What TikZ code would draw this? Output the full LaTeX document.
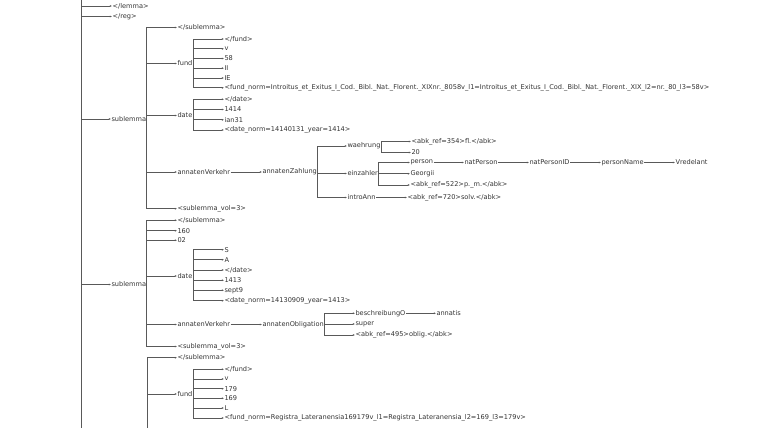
\documentclass[tikz,border=0pt]{standalone}
\usepackage{fontspec}
\setmainfont{DejaVu Sans}
\usetikzlibrary{arrows.meta}
\begin{document}
\begin{tikzpicture}[x=1pt,y=-1pt,
  t/.style={anchor=west,inner sep=0.3pt,font=\fontsize{6.6}{7}\selectfont,text=black!80},
  edge/.style={draw=black!65,line width=0.65pt,-{Latex[length=2.2pt,width=2pt]}},
  spine/.style={draw=black!65,line width=0.65pt}]
\useasboundingbox (0,0) rectangle (760,428);
\clip (0,0) rectangle (760,428);
\fill[white] (0,0) rectangle (760,428);
% root (off picture)
\coordinate (root) at (81,-5);
\coordinate (rootend) at (81,440);
\node[t] (lemma) at (112,6) {</lemma>};
\node[t] (reg) at (112,16.5) {</reg>};
\node[t] (s1) at (111,119) {sublemma};
\node[t] (s2) at (111,284.5) {sublemma};
\draw[spine] (root) -- (rootend);
\foreach \c in {lemma,reg,s1,s2} \draw[edge] (root) |- (\c.west);
% sublemma 1
\node[t] (s1a) at (177,27.5) {</sublemma>};
\node[t] (f1) at (177,63.5) {fund};
\node[t] (f1a) at (224,39) {</fund>};
\node[t] (f1b) at (224,48.8) {v};
\node[t] (f1c) at (224,58.5) {58};
\node[t] (f1d) at (224,68.2) {II};
\node[t] (f1e) at (224,78) {IE};
\node[t] (f1f) at (224,87.8) {<fund\_norm=Introitus\_et\_Exitus\_I\_Cod.\_Bibl.\_Nat.\_Florent.\_XIXnr.\_8058v\_l1=Introitus\_et\_Exitus\_I\_Cod.\_Bibl.\_Nat.\_Florent.\_XIX\_l2=nr.\_80\_l3=58v>};
\node[t] (d1) at (177,115.5) {date};
\node[t] (d1a) at (224,99.3) {</date>};
\node[t] (d1b) at (224,109.5) {1414};
\node[t] (d1c) at (224,119.8) {ian31};
\node[t] (d1d) at (224,130) {<date\_norm=14140131\_year=1414>};
\node[t] (av1) at (177,172) {annatenVerkehr};
\node[t] (az) at (262,172) {annatenZahlung};
\node[t] (wa) at (347,146) {waehrung};
\node[t] (wa1) at (411,141.5) {<abk\_ref=354>fl.</abk>};
\node[t] (wa2) at (411,152.5) {20};
\node[t] (ez) at (347,173.5) {einzahler};
\node[t] (pe) at (410,162.5) {person};
\node[t] (np) at (464,162.5) {natPerson};
\node[t] (npid) at (529,162.5) {natPersonID};
\node[t] (pn) at (601,162.5) {personName};
\node[t] (vr) at (675,162.5) {Vredelant};
\node[t] (ge) at (410,173.7) {Georgii};
\node[t] (ab522) at (410,185) {<abk\_ref=522>p.\_m.</abk>};
\node[t] (ia) at (347,197.5) {introAnn};
\node[t] (ab720) at (407,197.5) {<abk\_ref=720>solv.</abk>};
\node[t] (sv1) at (177,208.7) {<sublemma\_vol=3>};
\foreach \c in {s1a,f1,d1,av1,sv1} \draw[edge] (s1.east) |- (\c.west);
\foreach \c in {f1a,f1b,f1c,f1d,f1e,f1f} \draw[edge] (f1.east) |- (\c.west);
\foreach \c in {d1a,d1b,d1c,d1d} \draw[edge] (d1.east) |- (\c.west);
\draw[edge] (av1.east) -- (az.west);
\foreach \c in {wa,ez,ia} \draw[edge] (az.east) |- (\c.west);
\foreach \c in {wa1,wa2} \draw[edge] (wa.east) |- (\c.west);
\foreach \c in {pe,ge,ab522} \draw[edge] (ez.east) |- (\c.west);
\draw[edge] (pe.east) -- (np.west);
\draw[edge] (np.east) -- (npid.west);
\draw[edge] (npid.east) -- (pn.west);
\draw[edge] (pn.east) -- (vr.west);
\draw[edge] (ia.east) -- (ab720.west);
% sublemma 2
\node[t] (s2a) at (177,220.3) {</sublemma>};
\node[t] (s2b) at (177,230.7) {160};
\node[t] (s2c) at (177,240.3) {02};
\node[t] (d2) at (177,276) {date};
\node[t] (d2a) at (224,249.7) {S};
\node[t] (d2b) at (224,259.7) {A};
\node[t] (d2c) at (224,270) {</date>};
\node[t] (d2d) at (224,280.3) {1413};
\node[t] (d2e) at (224,290.3) {sept9};
\node[t] (d2f) at (224,300.7) {<date\_norm=14130909\_year=1413>};
\node[t] (av2) at (177,324.5) {annatenVerkehr};
\node[t] (ao) at (262,324.5) {annatenObligation};
\node[t] (bo) at (355,313.3) {beschreibungO};
\node[t] (an) at (436,313.3) {annatis};
\node[t] (su) at (355,324) {super};
\node[t] (ab495) at (355,335) {<abk\_ref=495>oblig.</abk>};
\node[t] (sv2) at (177,346.5) {<sublemma\_vol=3>};
\foreach \c in {s2a,s2b,s2c,d2,av2,sv2} \draw[edge] (s2.east) |- (\c.west);
\foreach \c in {d2a,d2b,d2c,d2d,d2e,d2f} \draw[edge] (d2.east) |- (\c.west);
\draw[edge] (av2.east) -- (ao.west);
\foreach \c in {bo,su,ab495} \draw[edge] (ao.east) |- (\c.west);
\draw[edge] (bo.east) -- (an.west);
% sublemma 3 (parent below the picture)
\coordinate (s3) at (147,470);
\node[t] (s3a) at (177,357.7) {</sublemma>};
\node[t] (f3) at (177,394) {fund};
\node[t] (f3a) at (224,369.3) {</fund>};
\node[t] (f3b) at (224,379) {v};
\node[t] (f3c) at (224,388.7) {179};
\node[t] (f3d) at (224,398.3) {169};
\node[t] (f3e) at (224,408) {L};
\node[t] (f3f) at (224,418) {<fund\_norm=Registra\_Lateranensia169179v\_l1=Registra\_Lateranensia\_l2=169\_l3=179v>};
\draw[spine] (s3) -- (s3a.west -| s3);
\foreach \c in {s3a,f3} \draw[edge] (s3) |- (\c.west);
\foreach \c in {f3a,f3b,f3c,f3d,f3e,f3f} \draw[edge] (f3.east) |- (\c.west);
\end{tikzpicture}
\end{document}
